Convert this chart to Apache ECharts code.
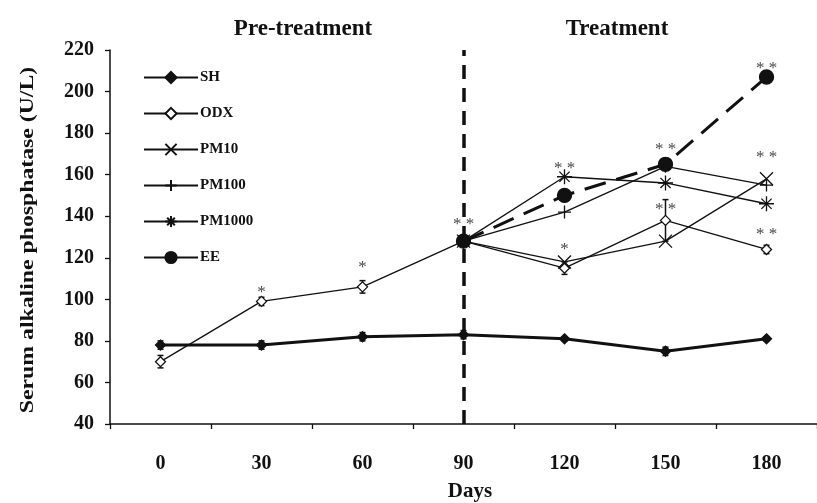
<!DOCTYPE html>
<html>
<head>
<meta charset="utf-8">
<script src="https://cdn.jsdelivr.net/npm/echarts@6/dist/echarts.min.js"></script>
<style>
  html, body { margin: 0; padding: 0; background: #fff; }
  #chart { width: 817px; height: 503px; }
</style>
</head>
<body>
<div id="chart"></div>
<script>
// Serum ALP over the study period (U/L)
const days = ['0', '30', '60', '90', '120', '150', '180'];
const sh     = [78, 78, 82, 83, 81, 75, 81];
const odx    = [70, 99, 106, 128, 115, 138, 124];
const pm10   = [null, null, null, 128, 118, 128, 158];
const pm100  = [null, null, null, 128, 142, 164, 155];
const pm1000 = [null, null, null, 128, 159, 156, 146];
const ee     = [null, null, null, 128, 150, 165, 207];

// standard errors
const shErr  = [2, 2, 2, 2, 1, 2, 1];
const odxErr = [3, 2, 3, 2, 3, 10, 2];

// significance marks (day index, value level, text)
const starDay  = [1, 2, 3, 4, 4, 5, 5, 6, 6, 6];
const starY    = [105, 117, 138, 165, 126, 174, 145, 213, 170, 133];
const starText = ['*', '*', '* *', '* *', '*', '* *', '* *', '* *', '* *', '* *'];

const yMin = 40, yMax = 220, yStep = 20;

const FONT = '"Liberation Serif", "Times New Roman", serif';
const INK = '#111';

const crossPath = 'path://M0,0L10,10M10,0L0,10';
const plusPath = 'path://M5,0L5,10M0,5L10,5';
const starPath = 'path://M5,0L5,10M0,5L10,5M1.6,1.6L8.4,8.4M8.4,1.6L1.6,8.4';

function lineSeries(name, data, opts) {
  return Object.assign({
    name: name,
    type: 'line',
    data: data,
    connectNulls: false,
    showAllSymbol: true,
    symbolKeepAspect: true,
    lineStyle: { color: INK, width: 1.3 },
    itemStyle: { color: INK, borderColor: INK, borderWidth: 1.3 },
    z: 3
  }, opts);
}

function errorBars(values, errs) {
  return {
    type: 'custom',
    silent: true,
    z: 2,
    data: values.map((v, i) => [i, v, errs[i]]),
    renderItem: function (params, api) {
      const x = api.value(0), y = api.value(1), e = api.value(2);
      const top = api.coord([x, y + e]);
      const bot = api.coord([x, y - e]);
      const w = 3;
      const st = { stroke: INK, lineWidth: 1.5 };
      return {
        type: 'group',
        children: [
          { type: 'line', shape: { x1: top[0], y1: top[1], x2: bot[0], y2: bot[1] }, style: st },
          { type: 'line', shape: { x1: top[0] - w, y1: top[1], x2: top[0] + w, y2: top[1] }, style: st },
          { type: 'line', shape: { x1: bot[0] - w, y1: bot[1], x2: bot[0] + w, y2: bot[1] }, style: st }
        ]
      };
    }
  };
}

const chart = echarts.init(document.getElementById('chart'), null, { renderer: 'canvas' });

chart.setOption({
  backgroundColor: '#fff',
  animation: false,
  grid: { left: 110, right: -7, top: 50, bottom: 79 },
  legend: {
    orient: 'vertical',
    left: 143,
    top: 70,
    padding: 0,
    itemWidth: 54,
    itemHeight: 14,
    itemGap: 21,
    data: ['SH', 'ODX', 'PM10', 'PM100', 'PM1000', 'EE'],
    textStyle: { fontFamily: FONT, fontWeight: 'bold', fontSize: 15, color: INK, padding: [0, 0, 0, -3] },
    selectedMode: false
  },
  graphic: [
    {
      type: 'text', x: 28, y: 240, rotation: Math.PI / 2, scaleX: 1.25,
      style: { text: 'Serum alkaline phosphatase (U/L)', fontFamily: FONT, fontWeight: 'bold',
               fontSize: 19, fill: INK, align: 'center', verticalAlign: 'middle' }
    },
    {
      type: 'text', x: 303, y: 29,
      style: { text: 'Pre-treatment', fontFamily: FONT, fontWeight: 'bold', fontSize: 23,
               fill: INK, align: 'center', verticalAlign: 'middle' }
    },
    {
      type: 'text', x: 617, y: 29,
      style: { text: 'Treatment', fontFamily: FONT, fontWeight: 'bold', fontSize: 23,
               fill: INK, align: 'center', verticalAlign: 'middle' }
    },
    {
      type: 'text', x: 470, y: 492,
      style: { text: 'Days', fontFamily: FONT, fontWeight: 'bold', fontSize: 21,
               fill: INK, align: 'center', verticalAlign: 'middle' }
    }
  ],
  xAxis: {
    type: 'category',
    data: days,
    boundaryGap: true,
    axisLine: { lineStyle: { color: INK, width: 1.5 } },
    axisTick: { show: true, length: 5, inside: false, lineStyle: { color: INK, width: 1.3 } },
    axisLabel: { margin: 30, fontFamily: FONT, fontWeight: 'bold', fontSize: 20, color: INK },
    splitLine: { show: false }
  },
  yAxis: {
    type: 'value',
    min: yMin,
    max: yMax,
    interval: yStep,
    axisLine: { show: true, lineStyle: { color: INK, width: 1.5 } },
    axisTick: { show: true, length: 5, lineStyle: { color: INK, width: 1.3 } },
    axisLabel: { margin: 16, fontFamily: FONT, fontWeight: 'bold', fontSize: 20, color: INK },
    splitLine: { show: false }
  },
  series: [
    errorBars(sh, shErr),
    errorBars(odx, odxErr),
    lineSeries('SH', sh, {
      symbol: 'diamond', symbolSize: 10,
      lineStyle: { color: INK, width: 3 },
      markLine: {
        silent: true,
        symbol: 'none',
        label: { show: false },
        lineStyle: { color: INK, width: 3.5, type: [14, 9] },
        data: [{ xAxis: '90' }]
      }
    }),
    lineSeries('ODX', odx, {
      symbol: 'diamond', symbolSize: 10,
      itemStyle: { color: '#fff', borderColor: INK, borderWidth: 1.3 }
    }),
    lineSeries('PM10', pm10, { symbol: crossPath, symbolSize: 13 }),
    lineSeries('PM100', pm100, { symbol: plusPath, symbolSize: 13 }),
    lineSeries('PM1000', pm1000, { symbol: starPath, symbolSize: 15 }),
    lineSeries('EE', ee, {
      symbol: 'circle', symbolSize: 14,
      lineStyle: { color: INK, width: 3, type: [22, 11] },
      z: 4
    }),
    {
      type: 'scatter',
      silent: true,
      symbolSize: 0,
      z: 5,
      data: starDay.map((d, i) => [d, starY[i], starText[i]]),
      label: {
        show: true,
        position: 'inside',
        formatter: p => p.data[2],
        fontFamily: FONT,
        fontSize: 17,
        color: INK,
        offset: [0, 4]
      }
    }
  ]
});
</script>
</body>
</html>
